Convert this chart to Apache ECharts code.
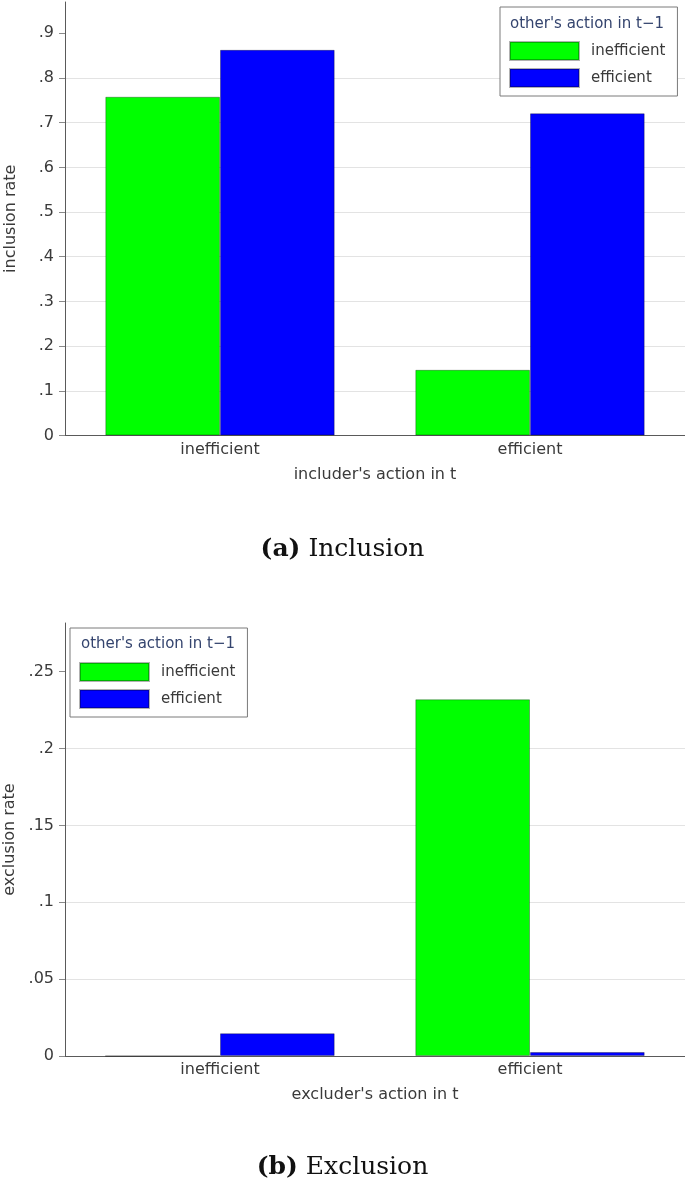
<!DOCTYPE html>
<html>
<head>
<meta charset="utf-8">
<script src="https://cdn.jsdelivr.net/npm/echarts@6/dist/echarts.min.js"></script>
<style>
html,body{margin:0;padding:0;background:#fff;}
#chart{width:685px;height:1184px;}
</style>
</head>
<body>
<div id="chart"></div>
<script>
const categories = ['inefficient', 'efficient'];
const seriesNames = ['inefficient', 'efficient'];
const inclusionIneff = [0.758, 0.147];
const inclusionEff = [0.863, 0.721];
const exclusionIneff = [0, 0.232];
const exclusionEff = [0.0148, 0.0026];
const inclusionTicks = [0, 0.1, 0.2, 0.3, 0.4, 0.5, 0.6, 0.7, 0.8, 0.9];
const exclusionTicks = [0, 0.05, 0.1, 0.15, 0.2, 0.25];
const legendTitle = "other's action in t\u22121";

const GREEN = '#00ff00', BLUE = '#0000ff';
const FONT = 'DejaVu Sans';
const TXT = '#3a3a3a';
const AXFS = 16;
const fmt = v => (v === 0 ? '0' : String(+v.toFixed(4)).replace(/^0\./, '.'));

function yAxis(grid, max, ticks, name) {
  return {
    type: 'value', gridIndex: grid, min: 0, max: max,
    name: name, nameLocation: 'middle', nameGap: 46, nameRotate: 90,
    nameTextStyle: {color: TXT, fontFamily: FONT, fontSize: AXFS},
    axisLine: {show: true, lineStyle: {color: '#5a5a5a', width: 1}},
    axisTick: {show: true, length: 6, customValues: ticks, lineStyle: {color: '#8a8a8a'}},
    axisLabel: {customValues: ticks, formatter: fmt, color: TXT, fontFamily: FONT, fontSize: AXFS, margin: 11},
    splitLine: {show: true, showMaxLine: false, lineStyle: {color: '#e3e3e3', width: 1}}
  };
}
function xAxis(grid, name) {
  return {
    type: 'category', gridIndex: grid, data: categories,
    name: name, nameLocation: 'middle', nameGap: 31,
    nameTextStyle: {color: TXT, fontFamily: FONT, fontSize: AXFS},
    axisLine: {show: true, lineStyle: {color: '#5a5a5a', width: 1}},
    axisTick: {show: false},
    axisLabel: {color: TXT, fontFamily: FONT, fontSize: AXFS, margin: 6}
  };
}
function bar(name, data, color, idx) {
  return {
    type: 'bar', name: name, data: data, xAxisIndex: idx, yAxisIndex: idx,
    barGap: '0%', barCategoryGap: '26%',
    itemStyle: {color: color, borderColor: 'rgba(0,0,0,0.3)', borderWidth: 1},
    emphasis: {disabled: true}
  };
}
function legend(left, top) {
  return {
    left: left, top: top, orient: 'vertical', icon: 'rect',
    itemWidth: 69, itemHeight: 18, itemGap: 7,
    padding: [34, 12, 8, 9],
    borderColor: '#7a7a7a', borderWidth: 1, backgroundColor: '#fff',
    data: seriesNames,
    textStyle: {color: TXT, fontFamily: FONT, fontSize: 15, padding: [0, 0, 0, 7]},
    selectedMode: false
  };
}
const capStyle = {fontFamily: 'DejaVu Serif', fontSize: 25, fontWeight: 'normal', color: '#111',
  rich: {b: {fontFamily: 'DejaVu Serif', fontSize: 25, fontWeight: 'bold', color: '#111'}}};

const chart = echarts.init(document.getElementById('chart'), null, {renderer: 'canvas'});
chart.setOption({
  animation: false,
  backgroundColor: '#fff',
  grid: [
    {left: 65, width: 620, top: 2, height: 433.5, containLabel: false, outerBoundsMode: 'none'},
    {left: 65, width: 620, top: 623, height: 433, containLabel: false, outerBoundsMode: 'none'}
  ],
  xAxis: [xAxis(0, "includer's action in t"), xAxis(1, "excluder's action in t")],
  yAxis: [yAxis(0, 0.97, inclusionTicks, 'inclusion rate'), yAxis(1, 0.2816, exclusionTicks, 'exclusion rate')],
  legend: [legend(500, 7), legend(70, 628)],
  title: [
    {text: '{b|(a)} Inclusion', left: 'center', top: 532, textStyle: capStyle},
    {text: '{b|(b)} Exclusion', left: 'center', top: 1150, textStyle: capStyle}
  ],
  graphic: [
    {type: 'text', left: 510, top: 17, z: 100, style: {text: legendTitle, fill: '#34446e', font: '15px "DejaVu Sans"'}},
    {type: 'text', left: 81, top: 637, z: 100, style: {text: legendTitle, fill: '#34446e', font: '15px "DejaVu Sans"'}}
  ],
  series: [
    bar(seriesNames[0], inclusionIneff, GREEN, 0),
    bar(seriesNames[1], inclusionEff, BLUE, 0),
    bar(seriesNames[0], exclusionIneff, GREEN, 1),
    bar(seriesNames[1], exclusionEff, BLUE, 1)
  ]
});
</script>
</body>
</html>
